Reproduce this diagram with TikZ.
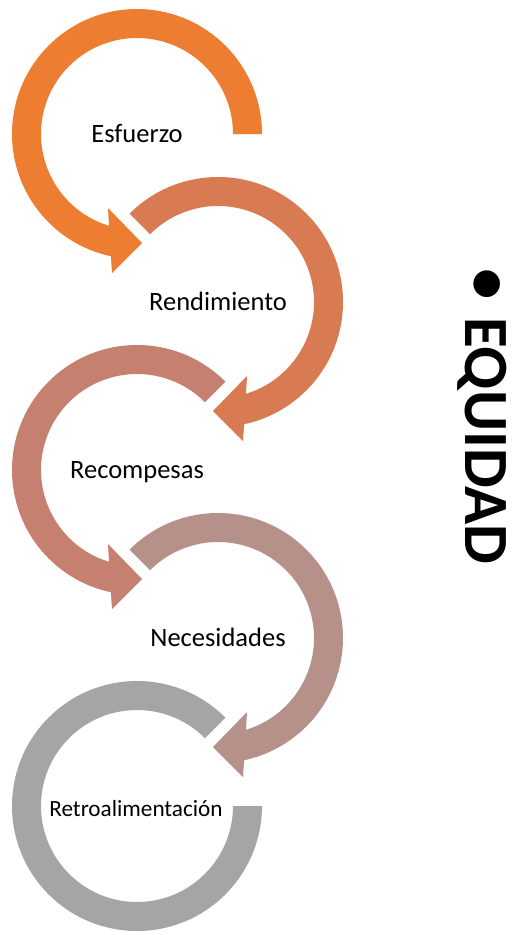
\documentclass[tikz,border=0pt]{standalone}
\usepackage{fontspec}
\setmainfont{Carlito}
\definecolor{cA}{HTML}{ED7D31}
\definecolor{cB}{HTML}{D87B52}
\definecolor{cC}{HTML}{C5806F}
\definecolor{cD}{HTML}{B6918A}
\definecolor{cE}{HTML}{A5A5A5}
\newcommand\cyclearrow[2]{%
  \fill[#2] (#1:125) arc[start angle=#1, end angle=-257.95, radius=125]
    -- (-25,139) -- (5,109) -- (-29,74) -- (-253.04:96)
    arc[start angle=-253.04, end angle=#1, radius=96] -- cycle;}
\begin{document}
\begin{tikzpicture}[x=1pt,y=-1pt,
  lbl/.style={font=\fontsize{26.5}{30}\selectfont, inner sep=0pt, anchor=base, text=black},
  lblsmall/.style={font=\fontsize{23.2}{26}\selectfont, inner sep=0pt, anchor=base, text=black},
  title/.style={font=\bfseries\fontsize{63}{70}\selectfont, inner sep=0pt, rotate=-90, text=black}]
\useasboundingbox (0,0) rectangle (512,935);
% ring 1
\begin{scope}[shift={(137,134)}]
  \cyclearrow{0}{cA}
\end{scope}
% ring 2
\begin{scope}[shift={(218,302)}, xscale=-1]
  \cyclearrow{-45}{cB}
\end{scope}
% ring 3
\begin{scope}[shift={(137,470)}]
  \cyclearrow{-45}{cC}
\end{scope}
% ring 4
\begin{scope}[shift={(218,638)}, xscale=-1]
  \cyclearrow{-45}{cD}
\end{scope}
% ring 5
\begin{scope}[shift={(137,806)}]
  \fill[cE] (-45:125) arc[start angle=-45, end angle=-360, radius=125]
    -- (0:96) arc[start angle=-360, end angle=-45, radius=96] -- cycle;
\end{scope}
\node[lbl] (t1) at (137,142) {Esfuerzo};
\node[lbl] (t2) at (218,310) {Rendimiento};
\node[lbl] (t3) at (137,478) {Recompesas};
\node[lbl] (t4) at (218,646) {Necesidades};
\node[lblsmall] (t5) at (136,816) {Retroalimentación};
\node[title, anchor=base west] (eq) at (465,317) {EQUIDAD};
\node[title, anchor=center] (bul) at (485,284) {•};
\end{tikzpicture}
\end{document}
